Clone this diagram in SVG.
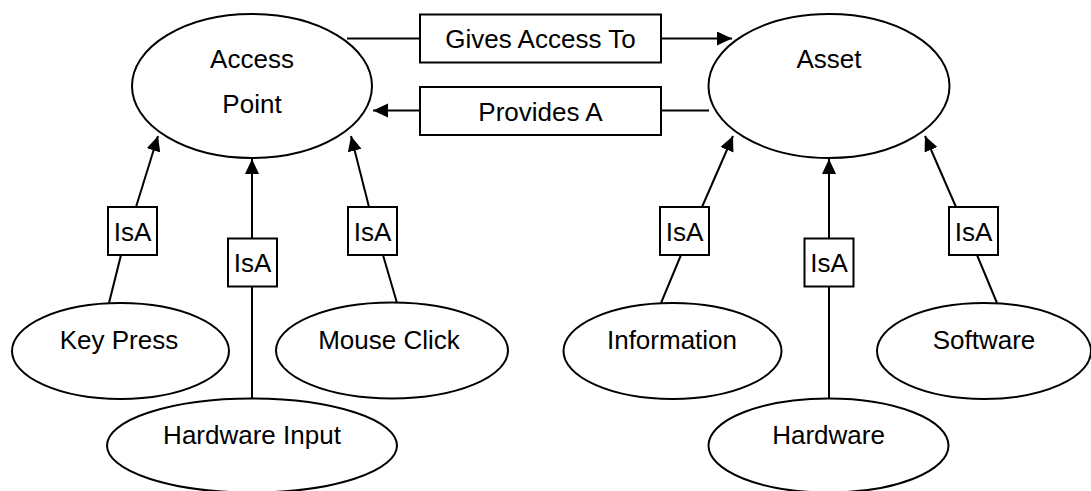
<svg xmlns="http://www.w3.org/2000/svg" width="1091" height="491" viewBox="0 0 1091 491">
  <style>
    .shape { fill: #ffffff; stroke: #000000; stroke-width: 2; }
    .edge { fill: none; stroke: #000000; stroke-width: 2; }
    .label { font-family: "Liberation Sans", Arial, sans-serif; font-size: 26px; fill: #000000; text-anchor: middle; }
  </style>
  <defs>
    <marker id="arrow" markerUnits="userSpaceOnUse" markerWidth="16" markerHeight="16" refX="15" refY="7" orient="auto">
      <path d="M0,0 L15,7 L0,14 Z" fill="#000000"/>
    </marker>
  </defs>

  <rect width="1091" height="491" fill="#ffffff"/>

  <!-- connectors -->
  <g id="connectors">
    <!-- Access Point -> Asset -->
    <line class="edge" x1="347" y1="38.5" x2="420" y2="38.5"/>
    <line class="edge" x1="661" y1="38.5" x2="732" y2="38.5" marker-end="url(#arrow)"/>
    <!-- Asset -> Access Point -->
    <line class="edge" x1="709" y1="110.5" x2="661" y2="110.5"/>
    <line class="edge" x1="420" y1="110.5" x2="373" y2="110.5" marker-end="url(#arrow)"/>

    <!-- IsA links to Access Point -->
    <line class="edge" x1="109" y1="303" x2="121" y2="255"/>
    <line class="edge" x1="136" y1="207" x2="158" y2="136" marker-end="url(#arrow)"/>
    <line class="edge" x1="252" y1="398" x2="252" y2="287"/>
    <line class="edge" x1="252" y1="238" x2="252" y2="159" marker-end="url(#arrow)"/>
    <line class="edge" x1="397" y1="303" x2="383" y2="255"/>
    <line class="edge" x1="369" y1="207" x2="351" y2="136" marker-end="url(#arrow)"/>

    <!-- IsA links to Asset -->
    <line class="edge" x1="661" y1="303" x2="681" y2="255"/>
    <line class="edge" x1="702" y1="207" x2="733" y2="136" marker-end="url(#arrow)"/>
    <line class="edge" x1="829" y1="398" x2="829" y2="287"/>
    <line class="edge" x1="829" y1="238" x2="829" y2="159" marker-end="url(#arrow)"/>
    <line class="edge" x1="997" y1="303" x2="977" y2="255"/>
    <line class="edge" x1="956" y1="207" x2="925" y2="136" marker-end="url(#arrow)"/>
  </g>

  <!-- relation labels -->
  <g id="rel-gives-access-to">
    <rect class="shape" x="420" y="14.5" width="241" height="48"/>
    <text class="label" x="540.5" y="48">Gives Access To</text>
  </g>
  <g id="rel-provides-a">
    <rect class="shape" x="420" y="87" width="241" height="48"/>
    <text class="label" x="540.5" y="120.5">Provides A</text>
  </g>

  <g id="isa-keypress">
    <rect class="shape" x="108" y="207" width="49" height="48"/>
    <text class="label" x="132.5" y="240.5">IsA</text>
  </g>
  <g id="isa-hardware-input">
    <rect class="shape" x="228" y="238.5" width="49" height="48"/>
    <text class="label" x="252.5" y="272">IsA</text>
  </g>
  <g id="isa-mouseclick">
    <rect class="shape" x="348" y="207" width="49" height="48"/>
    <text class="label" x="372.5" y="240.5">IsA</text>
  </g>
  <g id="isa-information">
    <rect class="shape" x="660" y="207" width="49" height="48"/>
    <text class="label" x="684.5" y="240.5">IsA</text>
  </g>
  <g id="isa-hardware">
    <rect class="shape" x="804.5" y="238.5" width="49" height="48"/>
    <text class="label" x="829" y="272">IsA</text>
  </g>
  <g id="isa-software">
    <rect class="shape" x="949" y="207" width="49" height="48"/>
    <text class="label" x="973.5" y="240.5">IsA</text>
  </g>

  <!-- concept nodes -->
  <g id="access-point">
    <ellipse class="shape" cx="252" cy="86" rx="120" ry="72"/>
    <text class="label" x="252" y="68">Access</text>
    <text class="label" x="252" y="113">Point</text>
  </g>
  <g id="asset">
    <ellipse class="shape" cx="829" cy="86" rx="120.5" ry="72"/>
    <text class="label" x="829" y="68">Asset</text>
  </g>
  <g id="key-press">
    <ellipse class="shape" cx="120.5" cy="351" rx="108.5" ry="48"/>
    <text class="label" x="119" y="349">Key Press</text>
  </g>
  <g id="mouse-click">
    <ellipse class="shape" cx="392" cy="350.5" rx="116" ry="48"/>
    <text class="label" x="389" y="349">Mouse Click</text>
  </g>
  <g id="hardware-input">
    <ellipse class="shape" cx="252" cy="445.5" rx="145" ry="47"/>
    <text class="label" x="252" y="444">Hardware Input</text>
  </g>
  <g id="information">
    <ellipse class="shape" cx="672.5" cy="351" rx="109" ry="48"/>
    <text class="label" x="672" y="349">Information</text>
  </g>
  <g id="software">
    <ellipse class="shape" cx="984" cy="351" rx="107" ry="48"/>
    <text class="label" x="984" y="349">Software</text>
  </g>
  <g id="hardware">
    <ellipse class="shape" cx="828.5" cy="445.5" rx="120" ry="47"/>
    <text class="label" x="828.5" y="444">Hardware</text>
  </g>
</svg>
